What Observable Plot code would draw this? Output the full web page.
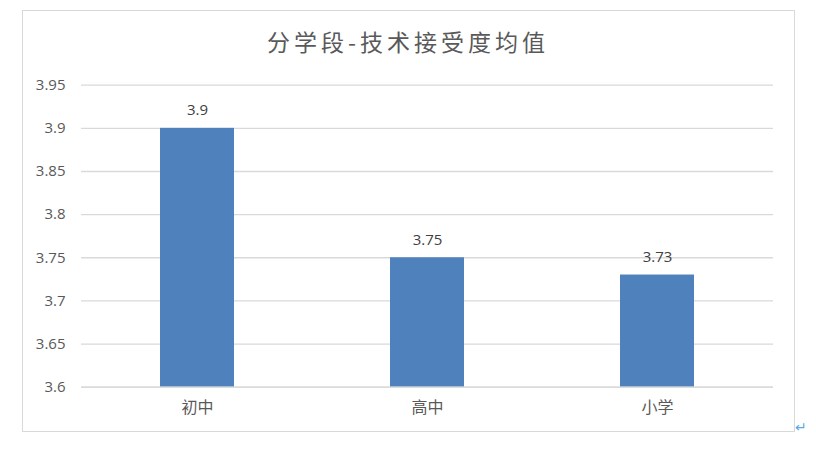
<!DOCTYPE html>
<html>
<head>
<meta charset="utf-8">
<script src="https://cdn.jsdelivr.net/npm/d3@7"></script>
<script src="https://cdn.jsdelivr.net/npm/@observablehq/plot@0.6"></script>
<style>
  html, body { margin: 0; padding: 0; background: #fff; }
  #wrap { position: relative; width: 816px; height: 452px; overflow: hidden; }
  #frame { position: absolute; left: 22px; top: 10px; width: 771px; height: 420px; border: 1.5px solid #d9d9d9; }
  #title { position: absolute; left: 0; top: 24px; width: 816px; text-align: center;
           font-family: "Noto Sans CJK SC", sans-serif; font-size: 23px; letter-spacing: 4px;
           color: #595959; line-height: 34px; }
  #ret { position: absolute; left: 795px; top: 419px; font-family: "DejaVu Sans", sans-serif;
         font-size: 14px; color: #5aa9e6; }
  #chart { position: absolute; left: 0; top: 0; }
</style>
</head>
<body>
<div id="wrap">
  <div id="frame"></div>
  <div id="chart"></div>
  <div id="title">分学段-技术接受度均值</div>
  <div id="ret">↵</div>
</div>
<script>
const categories = ["初中", "高中", "小学"];
const values = [3.9, 3.75, 3.73];
const valueLabels = ["3.9", "3.75", "3.73"];
const yTicks = [3.6, 3.65, 3.7, 3.75, 3.8, 3.85, 3.9, 3.95];
const yTickLabels = ["3.6", "3.65", "3.7", "3.75", "3.8", "3.85", "3.9", "3.95"];

const data = categories.map((c, i) => ({cat: c, v: values[i], label: valueLabels[i]}));

const chart = Plot.plot({
  width: 816,
  height: 452,
  marginLeft: 81,
  marginRight: 43,
  marginTop: 84.7,
  marginBottom: 65.3,
  style: { background: "transparent", fontFamily: "'Open Sans', 'Noto Sans CJK SC', sans-serif" },
  x: { domain: categories, padding: 0, label: null },
  y: { domain: [3.6, 3.95], label: null },
  marks: [
    Plot.gridY(yTicks, { stroke: "#d9d9d9", strokeOpacity: 1, strokeWidth: 1.3 }),
    Plot.barY(data, { x: "cat", y1: 3.6, y2: "v", fill: "#4f81bd", insetLeft: 78, insetRight: 78 }),
    Plot.ruleY([3.6], { stroke: "#d9d9d9", strokeWidth: 1.3 }),
    Plot.text(data, { x: "cat", y: "v", text: "label", dy: -13, lineAnchor: "bottom",
                      fontSize: 15, fill: "#404040" }),
    Plot.axisY(yTicks, { tickSize: 0, tickPadding: 16, fontSize: 15, color: "#595959",
                         tickFormat: (d) => yTickLabels[yTicks.indexOf(d)], label: null }),
    Plot.axisX({ tickSize: 0, tickPadding: 14, fontSize: 16, color: "#595959", label: null,
                 fontFamily: "'Noto Sans CJK SC', sans-serif" })
  ]
});
document.getElementById("chart").appendChild(chart);
</script>
</body>
</html>
